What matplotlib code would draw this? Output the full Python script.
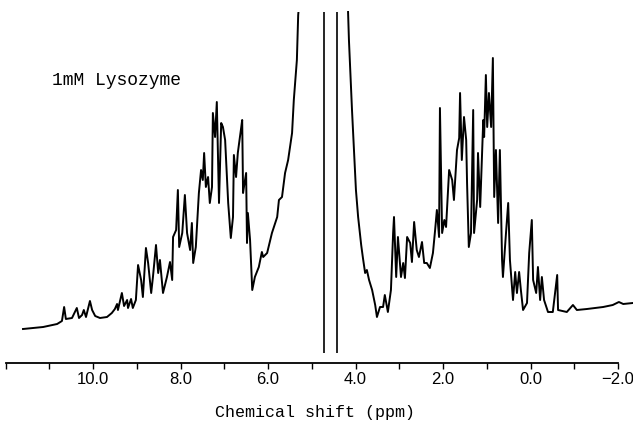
import matplotlib
matplotlib.use("Agg")
import matplotlib.pyplot as plt
from matplotlib.ticker import MultipleLocator, FuncFormatter

# 1H NMR spectrum, 1mM lysozyme (arbitrary intensity)
# downfield part, left of the water line
ppm_left = [11.60, 11.14, 10.82, 10.71, 10.66, 10.62, 10.48, 10.37, 10.32, 10.25,
            10.21, 10.16, 10.07, 10.02, 9.95, 9.84, 9.68, 9.57, 9.50, 9.45,
            9.43, 9.34, 9.29, 9.22, 9.20, 9.13, 9.09, 9.02, 8.97, 8.90,
            8.86, 8.79, 8.74, 8.67, 8.63, 8.56, 8.51, 8.47, 8.40, 8.31,
            8.24, 8.19, 8.17, 8.10, 8.06, 8.03, 7.96, 7.90, 7.85, 7.78,
            7.74, 7.71, 7.65, 7.58, 7.53, 7.49, 7.46, 7.42, 7.37, 7.33,
            7.28, 7.26, 7.21, 7.17, 7.12, 7.07, 7.03, 6.98, 6.91, 6.85,
            6.80, 6.78, 6.73, 6.69, 6.66, 6.62, 6.59, 6.57, 6.55, 6.50,
            6.48, 6.46, 6.41, 6.36, 6.30, 6.21, 6.14, 6.11, 6.02, 5.91,
            5.79, 5.75, 5.68, 5.61, 5.54, 5.45, 5.41, 5.34, 5.31, 5.29]
int_left = [34, 36, 39, 42, 56, 44, 45, 55, 45, 48,
            53, 46, 62, 53, 47, 45, 46, 50, 54, 59,
            53, 70, 57, 63, 55, 64, 55, 63, 98, 83,
            66, 115, 100, 70, 86, 118, 90, 103, 70, 86,
            101, 83, 126, 133, 173, 116, 130, 168, 130, 113,
            140, 100, 116, 170, 193, 183, 210, 176, 186, 160,
            176, 250, 226, 261, 160, 240, 236, 223, 160, 125,
            146, 208, 186, 210, 220, 233, 243, 170, 176, 190,
            120, 150, 123, 73, 86, 96, 111, 106, 110, 130,
            146, 163, 166, 190, 203, 230, 263, 303, 348, 358]

# upfield part, right of the water line
ppm_right = [4.17, 4.15, 4.08, 3.99, 3.94, 3.87, 3.83, 3.78, 3.74, 3.69,
             3.62, 3.55, 3.51, 3.44, 3.37, 3.33, 3.26, 3.19, 3.14, 3.12,
             3.07, 3.03, 2.96, 2.91, 2.87, 2.82, 2.75, 2.71, 2.66, 2.60,
             2.55, 2.48, 2.43, 2.37, 2.30, 2.23, 2.18, 2.14, 2.09, 2.07,
             2.02, 1.97, 1.93, 1.86, 1.79, 1.75, 1.68, 1.63, 1.61, 1.57,
             1.52, 1.47, 1.45, 1.41, 1.36, 1.31, 1.29, 1.22, 1.20, 1.15,
             1.08, 1.06, 1.02, 0.99, 0.95, 0.90, 0.86, 0.83, 0.79, 0.74,
             0.70, 0.65, 0.63, 0.56, 0.51, 0.47, 0.40, 0.35, 0.31, 0.26,
             0.22, 0.17, 0.08, 0.03, -0.03, -0.06, -0.13, -0.17, -0.22, -0.26,
             -0.31, -0.40, -0.51, -0.61, -0.63, -0.83, -0.97, -1.06, -1.29, -1.66,
             -1.88, -2.02, -2.12, -2.34]
int_right = [351, 323, 253, 173, 146, 118, 105, 90, 93, 83,
             73, 58, 46, 56, 56, 68, 51, 73, 130, 146,
             86, 126, 86, 100, 85, 126, 120, 101, 141, 113,
             106, 121, 100, 100, 95, 110, 133, 153, 126, 255,
             130, 143, 136, 193, 183, 163, 213, 225, 270, 203,
             246, 223, 180, 116, 130, 253, 130, 163, 210, 156,
             243, 226, 288, 236, 270, 236, 305, 166, 213, 140,
             213, 103, 86, 130, 160, 103, 63, 91, 70, 91,
             73, 53, 60, 110, 143, 83, 70, 96, 63, 86,
             63, 51, 51, 88, 53, 51, 58, 53, 54, 56,
             58, 61, 59, 60]

# saturated water signal
water_ppm = [4.72, 4.42]
water_bottom = 10

# labelled shifts on the axis
tick_labels = [10, 8, 6, 4, 2, 0, -2]

label = "1mM Lysozyme"


def fmt(v, pos):
    if int(round(v)) in tick_labels:
        return ("%.1f" % v).replace("-", "\u2212")
    return ""


fig = plt.figure(figsize=(6.33, 4.22), dpi=100)
ax = fig.add_axes([5.5 / 633, 1 - 363 / 422, 612.5 / 633, 351 / 422])

ax.plot(ppm_left, int_left, color="black", lw=1.4)
ax.plot(ppm_right, int_right, color="black", lw=1.4, clip_on=False)
ax.vlines(water_ppm, water_bottom, 351, color="black", lw=1.2)

ax.set_xlim(12, -2)
ax.set_ylim(0, 351)

for side in ["left", "right", "top"]:
    ax.spines[side].set_visible(False)
ax.spines["bottom"].set_linewidth(1.3)
ax.set_yticks([])

ax.xaxis.set_major_locator(MultipleLocator(1))
ax.xaxis.set_major_formatter(FuncFormatter(fmt))
ax.tick_params(axis="x", direction="out", length=4, width=1.0, pad=2.5,
               labelsize=12)
for t in ax.get_xticklabels():
    t.set_fontfamily("Liberation Sans")

ax.text(10.94, 283, label, fontsize=13, family="Liberation Mono",
        ha="left", va="center")
fig.text(315 / 633, 1 - 412 / 422, "Chemical shift (ppm)", fontsize=12,
         family="Liberation Mono", ha="center", va="center")

fig.savefig("out.png", dpi=100)
